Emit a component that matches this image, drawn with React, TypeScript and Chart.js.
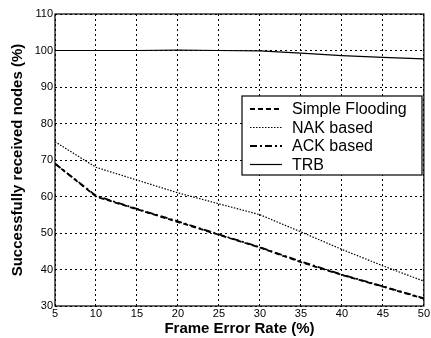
import React, { useEffect, useRef } from "react";
import { Chart, registerables } from "chart.js";

Chart.register(...registerables);

const frameErrorRates = [5, 10, 15, 20, 25, 30, 35, 40, 45, 50];
const simpleFlooding = [69, 60, 56.5, 53, 49.5, 46, 42, 38.5, 35.3, 32];
const nakBased = [75, 68, 64.5, 61, 58, 55, 50.3, 45.5, 41, 36.8];
const ackBased = [69, 60.2, 56.6, 53.2, 49.6, 46.1, 42.2, 38.6, 35.4, 32.1];
const trb = [100, 100, 100, 100.1, 100, 99.9, 99.3, 98.6, 98.1, 97.7];
const xTicks = [5, 10, 15, 20, 25, 30, 35, 40, 45, 50];
const yTicks = [30, 40, 50, 60, 70, 80, 90, 100, 110];

const seriesNames = ["Simple Flooding", "NAK based", "ACK based", "TRB"];
const seriesData = [simpleFlooding, nakBased, ackBased, trb];
const seriesDash = [[5, 3], [1.5, 1.5], [7, 3, 2, 3], []];
const seriesWidth = [1.8, 1.2, 1.8, 1.2];

const FONT = "'Liberation Sans', Arial, sans-serif";

const boxLegendPlugin = {
  id: "boxLegend",
  afterDraw(chart: any) {
    const { ctx, chartArea } = chart;
    ctx.save();
    ctx.setLineDash([]);
    ctx.strokeStyle = "#000";
    ctx.lineWidth = 1.2;
    ctx.strokeRect(chartArea.left, chartArea.top, chartArea.right - chartArea.left, chartArea.bottom - chartArea.top);
    const bx = 242, by = 96, bw = 180, bh = 79;
    ctx.fillStyle = "#fff";
    ctx.fillRect(bx, by, bw, bh);
    ctx.lineWidth = 1.2;
    ctx.strokeRect(bx, by, bw, bh);
    ctx.font = `16px ${FONT}`;
    ctx.textBaseline = "middle";
    seriesNames.forEach((name, i) => {
      const y = by + 13 + i * 18.5;
      ctx.setLineDash(seriesDash[i]);
      ctx.lineWidth = seriesWidth[i];
      ctx.beginPath();
      ctx.moveTo(250, y);
      ctx.lineTo(282, y);
      ctx.stroke();
      ctx.setLineDash([]);
      ctx.fillStyle = "#000";
      ctx.fillText(name, 292, y + 1);
    });
    ctx.restore();
  },
};

export default function App() {
  const ref = useRef<HTMLCanvasElement | null>(null);
  useEffect(() => {
    if (!ref.current) return;
    const chart = new Chart(ref.current, {
      type: "line",
      data: {
        datasets: seriesNames.map((name, i) => ({
          label: name,
          data: frameErrorRates.map((x, j) => ({ x, y: seriesData[i][j] })),
          borderColor: "#000",
          borderWidth: seriesWidth[i],
          borderDash: seriesDash[i],
          pointRadius: 0,
          fill: false,
          tension: 0,
        })),
      },
      options: {
        animation: false,
        responsive: false,
        maintainAspectRatio: false,
        layout: { padding: { top: 14, right: 3, left: 0, bottom: 0 } },
        plugins: { legend: { display: false }, tooltip: { enabled: false } },
        scales: {
          x: {
            type: "linear",
            min: 5,
            max: 50,
            afterBuildTicks: (s: any) => {
              s.ticks = xTicks.map((v) => ({ value: v }));
            },
            afterFit: (s: any) => {
              s.height = 32;
            },
            ticks: { color: "#000", font: { family: FONT, size: 11 }, padding: 1, maxRotation: 0 },
            grid: { color: "#000", lineWidth: 1, drawTicks: false },
            border: { display: false, dash: [2, 3] },
            title: {
              display: true,
              text: "Frame Error Rate (%)",
              color: "#000",
              font: { family: FONT, size: 15, weight: "bold" },
              padding: { top: 0, bottom: 0 },
            },
          },
          y: {
            type: "linear",
            min: 30,
            max: 110,
            afterBuildTicks: (s: any) => {
              s.ticks = yTicks.map((v) => ({ value: v }));
            },
            afterFit: (s: any) => {
              s.width = 55;
            },
            ticks: { color: "#000", font: { family: FONT, size: 11 }, padding: 2 },
            grid: { color: "#000", lineWidth: 1, drawTicks: false },
            border: { display: false, dash: [2, 3] },
            title: {
              display: true,
              text: "Successfully received nodes (%)",
              color: "#000",
              font: { family: FONT, size: 15, weight: "bold" },
              padding: { top: 9, bottom: 0 },
            },
          },
        },
      } as any,
      plugins: [boxLegendPlugin],
    });
    return () => chart.destroy();
  }, []);
  return (
    <div style={{ position: "fixed", left: 0, top: 0, width: 431, height: 338, background: "#fff" }}>
      <canvas ref={ref} width={431} height={338} style={{ width: 431, height: 338 }} />
    </div>
  );
}
